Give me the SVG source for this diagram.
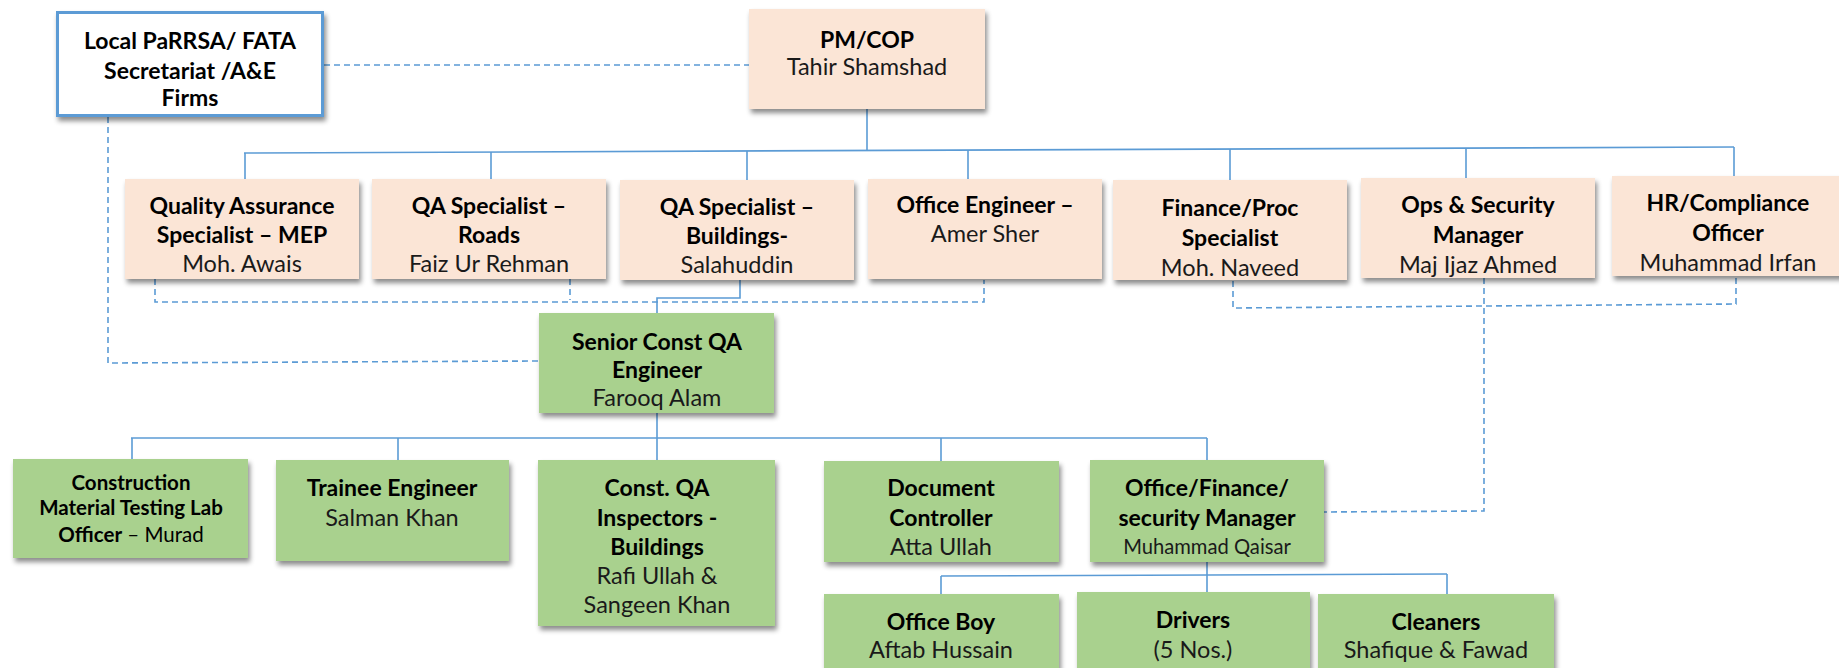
<svg xmlns="http://www.w3.org/2000/svg" width="1839" height="668" viewBox="0 0 1839 668">
<defs>
<filter id="sh" x="-10%" y="-10%" width="125%" height="140%">
<feDropShadow dx="2" dy="4" stdDeviation="2.5" flood-color="#000" flood-opacity="0.45"/>
</filter>
</defs>
<style>
.peach{fill:#fbe5d6;filter:url(#sh)}
.green{fill:#a9d18e;filter:url(#sh)}
.ext{fill:#fff;stroke:#5b9bd5;stroke-width:3;filter:url(#sh)}
text{font-family:Lato,"Open Sans","Liberation Sans",sans-serif;text-anchor:middle;fill:#000}
.b{font-weight:700;font-size:23px}
.n{font-weight:400;font-size:23.5px;fill:#1a1a1a}
.s{font-size:20.5px}
.q{font-size:20.2px}
.ln{fill:none;stroke:#5b9bd5;stroke-width:1.6}
.dl{fill:none;stroke:#5b9bd5;stroke-width:1.6;stroke-dasharray:6 4}
</style>
<rect width="1839" height="668" fill="#fff"/>
<g id="connectors">
<line class="dl" x1="324" y1="65" x2="749" y2="65"/>
<polyline class="dl" points="108,117 108,363 539,361"/>
<polyline class="dl" points="155,279 155,302 984,302 984,280"/>
<line class="dl" x1="570" y1="279" x2="570" y2="300"/>
<polyline class="dl" points="1233,281 1233,308 1736,304 1736,277"/>
<polyline class="dl" points="1484,278 1484,511 1324,512"/>
<line class="ln" x1="867" y1="109" x2="867" y2="150.5"/>
<line class="ln" x1="244" y1="153" x2="1734" y2="147"/>
<line class="ln" x1="245" y1="153" x2="245" y2="179"/>
<line class="ln" x1="491" y1="152" x2="491" y2="179"/>
<line class="ln" x1="747" y1="151" x2="747" y2="180"/>
<line class="ln" x1="968" y1="150" x2="968" y2="179"/>
<line class="ln" x1="1230" y1="149" x2="1230" y2="180"/>
<line class="ln" x1="1466" y1="148" x2="1466" y2="178"/>
<line class="ln" x1="1734" y1="147" x2="1734" y2="176"/>
<polyline class="ln" points="740,280 740,298 657,298 657,313"/>
<line class="ln" x1="657" y1="413" x2="657" y2="460"/>
<line class="ln" x1="131" y1="438" x2="1207" y2="438"/>
<line class="ln" x1="132" y1="438" x2="132" y2="459"/>
<line class="ln" x1="398" y1="438" x2="398" y2="460"/>
<line class="ln" x1="941" y1="438" x2="941" y2="461"/>
<line class="ln" x1="1207" y1="438" x2="1207" y2="460"/>
<line class="ln" x1="1207" y1="562" x2="1207" y2="592"/>
<line class="ln" x1="941" y1="576" x2="1447" y2="574"/>
<line class="ln" x1="941" y1="576" x2="941" y2="594"/>
<line class="ln" x1="1447" y1="574" x2="1447" y2="594"/>
</g>
<g id="local">
<rect class="ext" x="57.5" y="12.5" width="265" height="103"/>
<text class="b" x="190" y="49">Local PaRRSA/ FATA</text>
<text class="b" x="190" y="79">Secretariat /A&amp;E</text>
<text class="b" x="190" y="106">Firms</text>
</g>
<g id="pm">
<rect class="peach" x="749" y="9" width="236" height="100"/>
<text class="b" x="867" y="48">PM/COP</text>
<text class="n" x="867" y="75">Tahir Shamshad</text>
</g>
<g id="qa-mep">
<rect class="peach" x="125" y="179" width="234" height="100"/>
<text class="b" x="242" y="214">Quality Assurance</text>
<text class="b" x="242" y="243">Specialist – MEP</text>
<text class="n" x="242" y="272">Moh. Awais</text>
</g>
<g id="qa-roads">
<rect class="peach" x="372" y="179" width="234" height="100"/>
<text class="b" x="489" y="214">QA Specialist –</text>
<text class="b" x="489" y="243">Roads</text>
<text class="n" x="489" y="272">Faiz Ur Rehman</text>
</g>
<g id="qa-buildings">
<rect class="peach" x="620" y="180" width="234" height="100"/>
<text class="b" x="737" y="215">QA Specialist –</text>
<text class="b" x="737" y="244">Buildings-</text>
<text class="n" x="737" y="273">Salahuddin</text>
</g>
<g id="office-engineer">
<rect class="peach" x="868" y="179" width="234" height="100"/>
<text class="b" x="985" y="213">Office Engineer –</text>
<text class="n" x="985" y="242">Amer Sher</text>
</g>
<g id="finance">
<rect class="peach" x="1113" y="180" width="234" height="100"/>
<text class="b" x="1230" y="216">Finance/Proc</text>
<text class="b" x="1230" y="246">Specialist</text>
<text class="n" x="1230" y="276">Moh. Naveed</text>
</g>
<g id="ops">
<rect class="peach" x="1361" y="178" width="234" height="100"/>
<text class="b" x="1478" y="213">Ops &amp; Security</text>
<text class="b" x="1478" y="243">Manager</text>
<text class="n" x="1478" y="273">Maj Ijaz Ahmed</text>
</g>
<g id="hr">
<rect class="peach" x="1612" y="176" width="234" height="100"/>
<text class="b" x="1728" y="211">HR/Compliance</text>
<text class="b" x="1728" y="241">Officer</text>
<text class="n" x="1728" y="271">Muhammad Irfan</text>
</g>
<g id="senior">
<rect class="green" x="539" y="313" width="235" height="100"/>
<text class="b" x="657" y="350">Senior Const QA</text>
<text class="b" x="657" y="378">Engineer</text>
<text class="n" x="657" y="406">Farooq Alam</text>
</g>
<g id="lab-officer">
<rect class="green" x="13" y="459" width="235" height="99"/>
<text class="b s" x="131" y="490">Construction</text>
<text class="b s" x="131" y="515">Material Testing Lab</text>
<text class="s" x="131" y="542"><tspan font-weight="700">Officer</tspan> – Murad</text>
</g>
<g id="trainee">
<rect class="green" x="276" y="460" width="233" height="101"/>
<text class="b" x="392" y="496">Trainee Engineer</text>
<text class="n" x="392" y="526">Salman Khan</text>
</g>
<g id="inspectors">
<rect class="green" x="538" y="460" width="237" height="166"/>
<text class="b" x="657" y="496">Const. QA</text>
<text class="b" x="657" y="526">Inspectors -</text>
<text class="b" x="657" y="555">Buildings</text>
<text class="n" x="657" y="584">Rafi Ullah &amp;</text>
<text class="n" x="657" y="613">Sangeen Khan</text>
</g>
<g id="doc-controller">
<rect class="green" x="824" y="461" width="235" height="101"/>
<text class="b" x="941" y="496">Document</text>
<text class="b" x="941" y="526">Controller</text>
<text class="n" x="941" y="555">Atta Ullah</text>
</g>
<g id="office-manager">
<rect class="green" x="1090" y="460" width="234" height="102"/>
<text class="b" x="1207" y="496">Office/Finance/</text>
<text class="b" x="1207" y="526">security Manager</text>
<text class="n q" x="1207" y="554">Muhammad Qaisar</text>
</g>
<g id="office-boy">
<rect class="green" x="824" y="594" width="235" height="80"/>
<text class="b" x="941" y="630">Office Boy</text>
<text class="n" x="941" y="658">Aftab Hussain</text>
</g>
<g id="drivers">
<rect class="green" x="1077" y="592" width="233" height="80"/>
<text class="b" x="1193" y="628">Drivers</text>
<text class="n" x="1193" y="658">(5 Nos.)</text>
</g>
<g id="cleaners">
<rect class="green" x="1318" y="594" width="236" height="80"/>
<text class="b" x="1436" y="630">Cleaners</text>
<text class="n" x="1436" y="658">Shafique &amp; Fawad</text>
</g>
</svg>
